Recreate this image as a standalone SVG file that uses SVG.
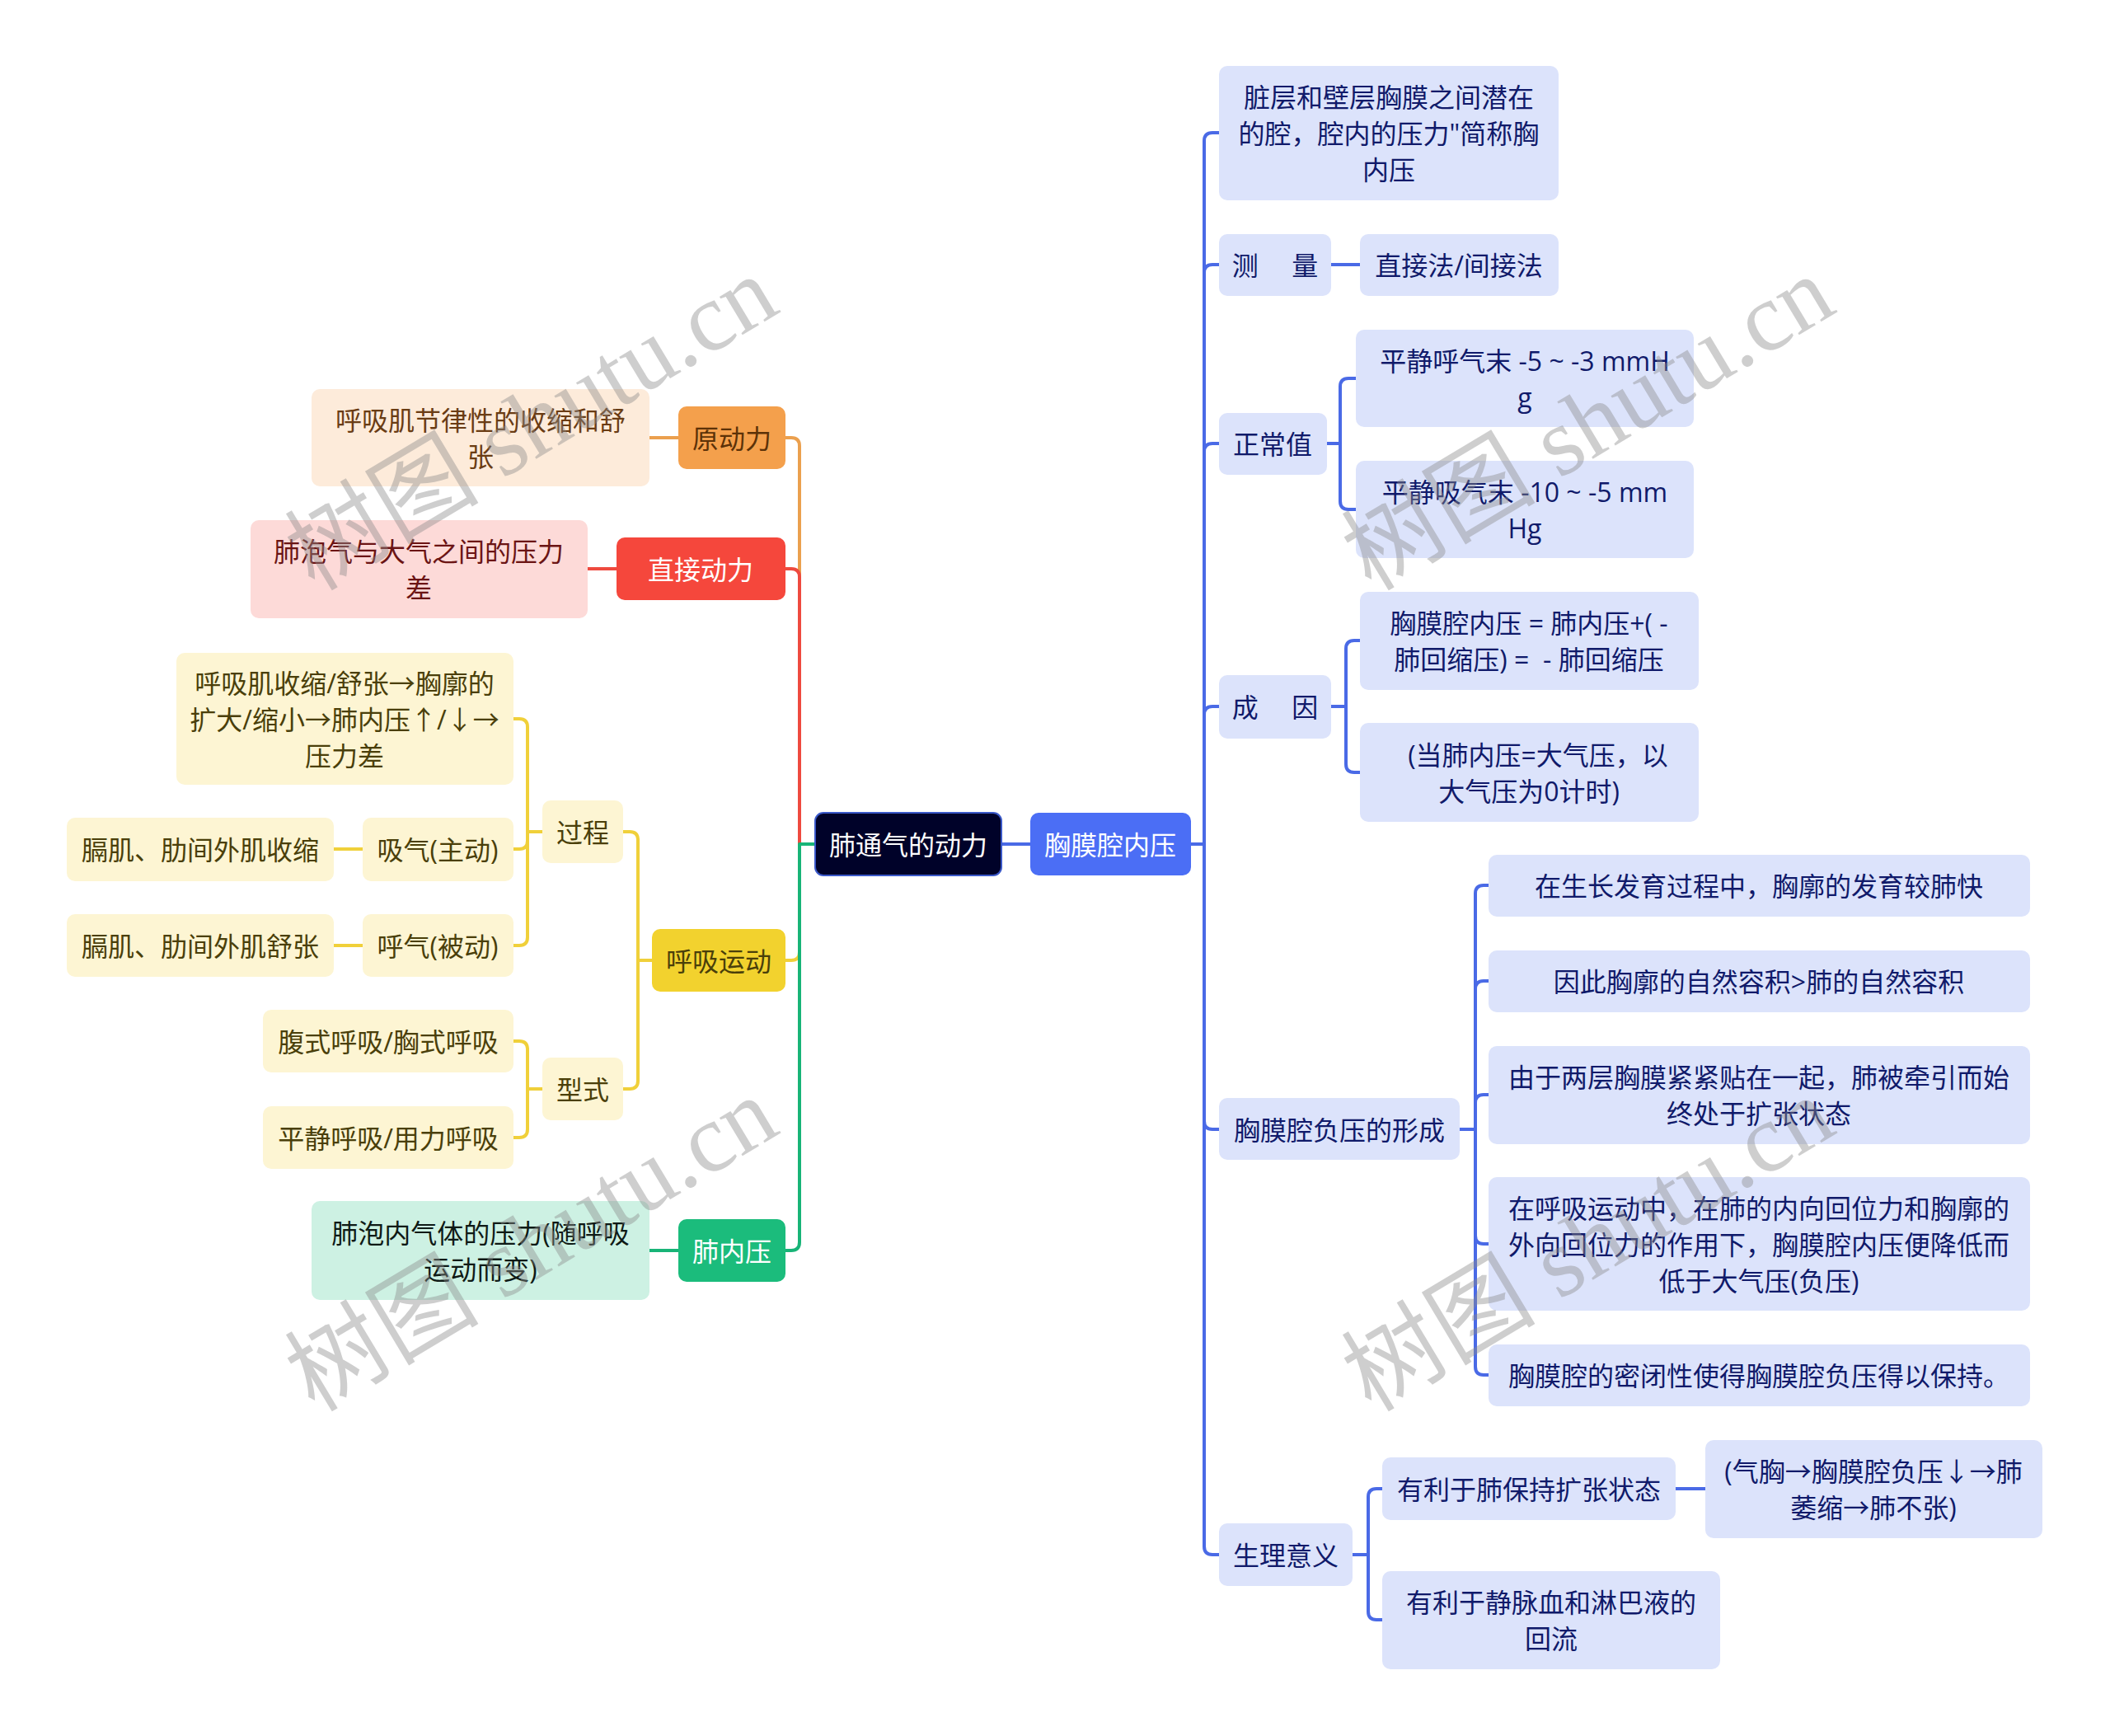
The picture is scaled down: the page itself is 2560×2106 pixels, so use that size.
<svg xmlns="http://www.w3.org/2000/svg" width="2560" height="2106" viewBox="0 0 2560 2106">
<style>
text{font-family:"Open Sans","Noto Sans CJK SC",sans-serif;font-size:32px;text-anchor:middle;dominant-baseline:central}
.ln{fill:none;stroke-width:4;stroke-linecap:round;stroke-linejoin:round}
.o{stroke:#EBA04E}.r{stroke:#EE4A3F}.y{stroke:#F0D03A}.g{stroke:#18B477}.b{stroke:#4A6AE6}
.fo{fill:#F4A04C}.fol{fill:#FDEBDA}.tor{fill:#5C3208}.tol{fill:#6A3C14}
.fr{fill:#F5473C}.frl{fill:#FDDAD8}.trl{fill:#6B1414}
.fy{fill:#F2D22E}.fyl{fill:#FDF5D3}.ty{fill:#4A3F0A}
.fg{fill:#1BBC7C}.fgl{fill:#CDF1E3}.tg{fill:#0F1A16}
.fb{fill:#4B6EF5}.fbl{fill:#DCE3FB}.tb{fill:#101A6A}
.w{fill:#FFFFFF}
.wm{font-family:"Liberation Serif","Noto Sans CJK SC",serif;font-size:118px;fill:#8a8a8a;fill-opacity:0.42;text-anchor:middle;dominant-baseline:central}
</style>
<rect width="2560" height="2106" fill="#FFFFFF"/>
<g id="connectors">
<path class="ln o" d="M989 1024 H970 V541 Q970 531 960 531 H953"/>
<path class="ln y" d="M989 1024 H970 V1155 Q970 1165 960 1165 H953"/>
<path class="ln r" d="M989 1024 H970 V700 Q970 690 960 690 H953"/>
<path class="ln g" d="M989 1024 H970 V1507 Q970 1517 960 1517 H953"/>
<path class="ln o" d="M823 531 H788"/>
<path class="ln r" d="M748 690 H713"/>
<path class="ln g" d="M823 1517 H788"/>
<path class="ln y" d="M791 1165 H774 V1019 Q774 1009 764 1009 H756"/>
<path class="ln y" d="M791 1165 H774 V1311 Q774 1321 764 1321 H756"/>
<path class="ln y" d="M658 1009 H640 V882 Q640 872 630 872 H623"/>
<path class="ln y" d="M658 1009 H640 V1020 Q640 1030 630 1030 H623"/>
<path class="ln y" d="M658 1009 H640 V1137 Q640 1147 630 1147 H623"/>
<path class="ln y" d="M440 1030 H405"/>
<path class="ln y" d="M440 1147 H405"/>
<path class="ln y" d="M658 1321 H640 V1273 Q640 1263 630 1263 H623"/>
<path class="ln y" d="M658 1321 H640 V1370 Q640 1380 630 1380 H623"/>
<path class="ln b" d="M1215 1024 H1250"/>
<path class="ln b" d="M1445 1024 H1461 V171 Q1461 161 1471 161 H1479"/>
<path class="ln b" d="M1445 1024 H1461 V331 Q1461 321 1471 321 H1479"/>
<path class="ln b" d="M1445 1024 H1461 V548 Q1461 538 1471 538 H1479"/>
<path class="ln b" d="M1445 1024 H1461 V867 Q1461 857 1471 857 H1479"/>
<path class="ln b" d="M1445 1024 H1461 V1360 Q1461 1370 1471 1370 H1479"/>
<path class="ln b" d="M1445 1024 H1461 V1876 Q1461 1886 1471 1886 H1479"/>
<path class="ln b" d="M1615 321 H1650"/>
<path class="ln b" d="M1610 538 H1626 V469 Q1626 459 1636 459 H1645"/>
<path class="ln b" d="M1610 538 H1626 V608 Q1626 618 1636 618 H1645"/>
<path class="ln b" d="M1615 857 H1633 V787 Q1633 777 1643 777 H1650"/>
<path class="ln b" d="M1615 857 H1633 V927 Q1633 937 1643 937 H1650"/>
<path class="ln b" d="M1771 1370 H1790 V1084 Q1790 1074 1800 1074 H1806"/>
<path class="ln b" d="M1771 1370 H1790 V1200 Q1790 1190 1800 1190 H1806"/>
<path class="ln b" d="M1771 1370 H1790 V1338 Q1790 1328 1800 1328 H1806"/>
<path class="ln b" d="M1771 1370 H1790 V1499 Q1790 1509 1800 1509 H1806"/>
<path class="ln b" d="M1771 1370 H1790 V1658 Q1790 1668 1800 1668 H1806"/>
<path class="ln b" d="M1641 1886 H1660 V1816 Q1660 1806 1670 1806 H1677"/>
<path class="ln b" d="M1641 1886 H1660 V1955 Q1660 1965 1670 1965 H1677"/>
<path class="ln b" d="M2033 1806 H2069"/>
</g>
<g id="n-root"><rect x="989" y="986" width="226" height="76" rx="10" fill="#000229" stroke="#3A58C8" stroke-width="2"/><text class="w" x="1102" y="1024">肺通气的动力</text></g>
<g id="n-xmqny"><rect x="1250" y="986" width="195" height="76" rx="10" class="fb"/><text class="w" x="1347" y="1024">胸膜腔内压</text></g>
<g id="n-ydl"><rect x="823" y="493" width="130" height="76" rx="10" class="fo"/><text class="tor" x="888" y="531">原动力</text></g>
<g id="n-ydl-c"><rect x="378" y="472" width="410" height="118" rx="10" class="fol"/><text class="tol" x="583" y="509">呼吸肌节律性的收缩和舒</text><text class="tol" x="583" y="553">张</text></g>
<g id="n-zjdl"><rect x="748" y="652" width="205" height="76" rx="10" class="fr"/><text class="w" x="850" y="690">直接动力</text></g>
<g id="n-zjdl-c"><rect x="304" y="631" width="409" height="119" rx="10" class="frl"/><text class="trl" x="508" y="668">肺泡气与大气之间的压力</text><text class="trl" x="508" y="712">差</text></g>
<g id="n-hxyd"><rect x="791" y="1127" width="162" height="76" rx="10" class="fy"/><text class="ty" x="872" y="1165">呼吸运动</text></g>
<g id="n-gc"><rect x="658" y="971" width="98" height="76" rx="10" class="fyl"/><text class="ty" x="707" y="1009">过程</text></g>
<g id="n-gc-c1"><rect x="214" y="792" width="409" height="160" rx="10" class="fyl"/><text class="ty" x="418" y="828">呼吸肌收缩/舒张→胸廓的</text><text class="ty" x="418" y="872">扩大/缩小→肺内压↑/↓→</text><text class="ty" x="418" y="916">压力差</text></g>
<g id="n-xq"><rect x="440" y="992" width="183" height="77" rx="10" class="fyl"/><text class="ty" x="531" y="1030">吸气(主动)</text></g>
<g id="n-xq-c"><rect x="81" y="992" width="324" height="77" rx="10" class="fyl"/><text class="ty" x="243" y="1030">膈肌、肋间外肌收缩</text></g>
<g id="n-hq"><rect x="440" y="1109" width="183" height="76" rx="10" class="fyl"/><text class="ty" x="531" y="1147">呼气(被动)</text></g>
<g id="n-hq-c"><rect x="81" y="1109" width="324" height="76" rx="10" class="fyl"/><text class="ty" x="243" y="1147">膈肌、肋间外肌舒张</text></g>
<g id="n-xs"><rect x="658" y="1283" width="98" height="76" rx="10" class="fyl"/><text class="ty" x="707" y="1321">型式</text></g>
<g id="n-xs-c1"><rect x="319" y="1225" width="304" height="76" rx="10" class="fyl"/><text class="ty" x="471" y="1263">腹式呼吸/胸式呼吸</text></g>
<g id="n-xs-c2"><rect x="319" y="1342" width="304" height="76" rx="10" class="fyl"/><text class="ty" x="471" y="1380">平静呼吸/用力呼吸</text></g>
<g id="n-fny"><rect x="823" y="1479" width="130" height="76" rx="10" class="fg"/><text class="w" x="888" y="1517">肺内压</text></g>
<g id="n-fny-c"><rect x="378" y="1457" width="410" height="120" rx="10" class="fgl"/><text class="tg" x="583" y="1495">肺泡内气体的压力(随呼吸</text><text class="tg" x="583" y="1539">运动而变)</text></g>
<g id="n-def"><rect x="1479" y="80" width="412" height="163" rx="10" class="fbl"/><text class="tb" x="1685" y="117">脏层和壁层胸膜之间潜在</text><text class="tb" x="1685" y="161">的腔，腔内的压力"简称胸</text><text class="tb" x="1685" y="205">内压</text></g>
<g id="n-cl"><rect x="1479" y="284" width="136" height="75" rx="10" class="fbl"/><text class="tb" x="1547" y="321" xml:space="preserve">测　 量</text></g>
<g id="n-cl-c"><rect x="1650" y="284" width="241" height="75" rx="10" class="fbl"/><text class="tb" x="1770" y="321">直接法/间接法</text></g>
<g id="n-zcz"><rect x="1479" y="501" width="131" height="75" rx="10" class="fbl"/><text class="tb" x="1544" y="538">正常值</text></g>
<g id="n-zcz-c1"><rect x="1645" y="400" width="410" height="118" rx="10" class="fbl"/><text class="tb" x="1850" y="437">平静呼气末 -5 ~ -3 mmH</text><text class="tb" x="1850" y="481">g</text></g>
<g id="n-zcz-c2"><rect x="1645" y="559" width="410" height="118" rx="10" class="fbl"/><text class="tb" x="1850" y="596">平静吸气末 -10 ~ -5 mm</text><text class="tb" x="1850" y="640">Hg</text></g>
<g id="n-cy"><rect x="1479" y="819" width="136" height="77" rx="10" class="fbl"/><text class="tb" x="1547" y="857" xml:space="preserve">成　 因</text></g>
<g id="n-cy-c1"><rect x="1650" y="718" width="411" height="119" rx="10" class="fbl"/><text class="tb" x="1855" y="755" xml:space="preserve">胸膜腔内压 = 肺内压+( -</text><text class="tb" x="1855" y="799" xml:space="preserve">肺回缩压) =  - 肺回缩压</text></g>
<g id="n-cy-c2"><rect x="1650" y="877" width="411" height="120" rx="10" class="fbl"/><text class="tb" x="1866" y="915">(当肺内压=大气压，以</text><text class="tb" x="1855" y="959">大气压为0计时)</text></g>
<g id="n-fyxc"><rect x="1479" y="1332" width="292" height="75" rx="10" class="fbl"/><text class="tb" x="1625" y="1370">胸膜腔负压的形成</text></g>
<g id="n-fyxc-c1"><rect x="1806" y="1037" width="657" height="75" rx="10" class="fbl"/><text class="tb" x="2134" y="1074">在生长发育过程中，胸廓的发育较肺快</text></g>
<g id="n-fyxc-c2"><rect x="1806" y="1153" width="657" height="75" rx="10" class="fbl"/><text class="tb" x="2134" y="1190">因此胸廓的自然容积&gt;肺的自然容积</text></g>
<g id="n-fyxc-c3"><rect x="1806" y="1269" width="657" height="119" rx="10" class="fbl"/><text class="tb" x="2134" y="1306">由于两层胸膜紧紧贴在一起，肺被牵引而始</text><text class="tb" x="2134" y="1350">终处于扩张状态</text></g>
<g id="n-fyxc-c4"><rect x="1806" y="1428" width="657" height="162" rx="10" class="fbl"/><text class="tb" x="2134" y="1465">在呼吸运动中，在肺的内向回位力和胸廓的</text><text class="tb" x="2134" y="1509">外向回位力的作用下，胸膜腔内压便降低而</text><text class="tb" x="2134" y="1553">低于大气压(负压)</text></g>
<g id="n-fyxc-c5"><rect x="1806" y="1631" width="657" height="75" rx="10" class="fbl"/><text class="tb" x="2134" y="1668">胸膜腔的密闭性使得胸膜腔负压得以保持。</text></g>
<g id="n-slyy"><rect x="1479" y="1848" width="162" height="76" rx="10" class="fbl"/><text class="tb" x="1560" y="1886">生理意义</text></g>
<g id="n-slyy-c1"><rect x="1677" y="1768" width="356" height="76" rx="10" class="fbl"/><text class="tb" x="1855" y="1806">有利于肺保持扩张状态</text></g>
<g id="n-slyy-c1a"><rect x="2069" y="1747" width="409" height="119" rx="10" class="fbl"/><text class="tb" x="2273" y="1784">(气胸→胸膜腔负压↓→肺</text><text class="tb" x="2273" y="1828">萎缩→肺不张)</text></g>
<g id="n-slyy-c2"><rect x="1677" y="1906" width="410" height="119" rx="10" class="fbl"/><text class="tb" x="1882" y="1943">有利于静脉血和淋巴液的</text><text class="tb" x="1882" y="1987">回流</text></g>
<g id="watermarks">
<text class="wm" transform="translate(645 514) rotate(-31)">树图 shutu.cn</text>
<text class="wm" transform="translate(645 1510) rotate(-31)">树图 shutu.cn</text>
<text class="wm" transform="translate(1927 514) rotate(-31)">树图 shutu.cn</text>
<text class="wm" transform="translate(1927 1510) rotate(-31)">树图 shutu.cn</text>
</g>
</svg>
